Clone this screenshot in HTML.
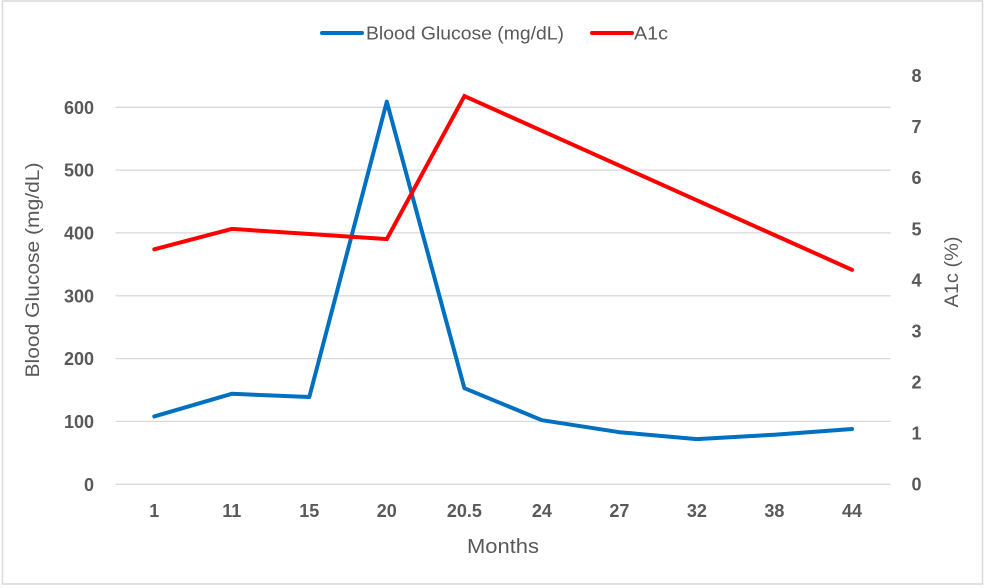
<!DOCTYPE html>
<html>
<head>
<meta charset="utf-8">
<style>
  html,body{margin:0;padding:0;background:#fff;}
  svg{display:block;}
  text{font-family:"Liberation Sans",Arial,sans-serif;fill:#595959;}
</style>
</head>
<body>
<svg width="986" height="588" viewBox="0 0 986 588" xmlns="http://www.w3.org/2000/svg">
  <rect x="0" y="0" width="986" height="588" fill="#fff"/>
  <rect x="2.5" y="1" width="980" height="583" fill="none" stroke="#d9d9d9" stroke-width="1.5"/>

  <!-- gridlines -->
  <g stroke="#d9d9d9" stroke-width="1.3">
    <line x1="115.5" y1="107.3" x2="890.7" y2="107.3"/>
    <line x1="115.5" y1="170.1" x2="890.7" y2="170.1"/>
    <line x1="115.5" y1="232.9" x2="890.7" y2="232.9"/>
    <line x1="115.5" y1="295.8" x2="890.7" y2="295.8"/>
    <line x1="115.5" y1="358.6" x2="890.7" y2="358.6"/>
    <line x1="115.5" y1="421.4" x2="890.7" y2="421.4"/>
    <line x1="115.5" y1="484.3" x2="890.7" y2="484.3"/>
  </g>

  <!-- left tick labels -->
  <g font-size="18" font-weight="bold" text-anchor="end">
    <text x="94" y="113.8">600</text>
    <text x="94" y="176.6">500</text>
    <text x="94" y="239.4">400</text>
    <text x="94" y="302.3">300</text>
    <text x="94" y="365.1">200</text>
    <text x="94" y="427.9">100</text>
    <text x="94" y="490.8">0</text>
  </g>

  <!-- right tick labels -->
  <g font-size="18" font-weight="bold" text-anchor="middle">
    <text x="916.5" y="82">8</text>
    <text x="916.5" y="133.1">7</text>
    <text x="916.5" y="184.2">6</text>
    <text x="916.5" y="235.3">5</text>
    <text x="916.5" y="286.4">4</text>
    <text x="916.5" y="337.4">3</text>
    <text x="916.5" y="388.5">2</text>
    <text x="916.5" y="439.6">1</text>
    <text x="916.5" y="490.7">0</text>
  </g>

  <!-- x tick labels -->
  <g font-size="18" font-weight="bold" text-anchor="middle">
    <text x="154.3" y="517">1</text>
    <text x="231.8" y="517">11</text>
    <text x="309.3" y="517">15</text>
    <text x="386.8" y="517">20</text>
    <text x="464.4" y="517">20.5</text>
    <text x="541.9" y="517">24</text>
    <text x="619.4" y="517">27</text>
    <text x="696.9" y="517">32</text>
    <text x="774.4" y="517">38</text>
    <text x="852.0" y="517">44</text>
  </g>

  <!-- axis titles -->
  <text x="503" y="553" font-size="20" text-anchor="middle" textLength="72" lengthAdjust="spacingAndGlyphs">Months</text>
  <text transform="translate(39,270) rotate(-90)" font-size="19" text-anchor="middle" textLength="215" lengthAdjust="spacingAndGlyphs">Blood Glucose (mg/dL)</text>
  <text transform="translate(958,272) rotate(-90)" font-size="19" text-anchor="middle" textLength="71" lengthAdjust="spacingAndGlyphs">A1c (%)</text>

  <!-- series -->
  <polyline fill="none" stroke="#0070c0" stroke-width="4" stroke-linejoin="round" stroke-linecap="round"
    points="154.3,416.4 231.8,393.8 309.3,397.0 386.8,101.7 464.4,388.2 541.9,420.2 619.4,432.2 696.9,439.1 774.4,434.7 852.0,429.0"/>
  <polyline fill="none" stroke="#ff0000" stroke-width="4" stroke-linejoin="miter" stroke-linecap="round"
    points="154.3,249.3 231.8,228.9 309.3,234.0 386.8,239.1 464.4,96.1 541.9,130.8 619.4,165.6 696.9,200.3 774.4,235.0 852.0,269.8"/>

  <!-- legend -->
  <line x1="322" y1="33" x2="362" y2="33" stroke="#0070c0" stroke-width="4" stroke-linecap="round"/>
  <text x="366" y="39.5" font-size="18" textLength="198" lengthAdjust="spacingAndGlyphs">Blood Glucose (mg/dL)</text>
  <line x1="592" y1="33" x2="632" y2="33" stroke="#ff0000" stroke-width="4" stroke-linecap="round"/>
  <text x="634" y="39.5" font-size="18" textLength="34" lengthAdjust="spacingAndGlyphs">A1c</text>
</svg>
</body>
</html>
